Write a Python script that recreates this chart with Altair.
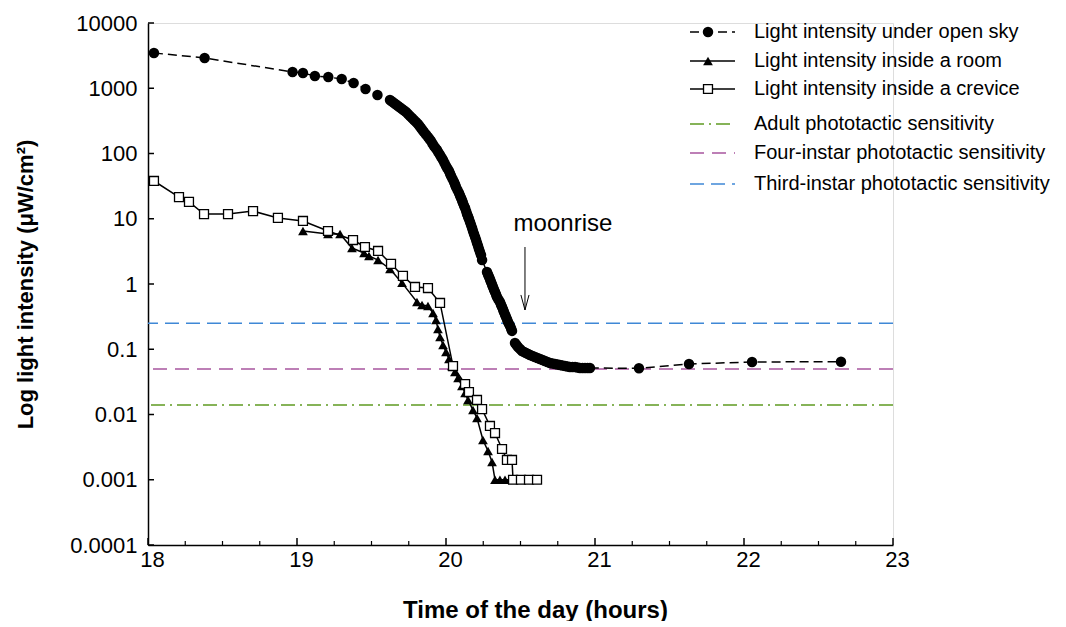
import altair as alt
import pandas as pd

# ---------------- data ----------------
# open sky: sparse early readings, three dense runs, sparse late readings
sky_early_t = [18.04, 18.38, 18.97, 19.04, 19.12, 19.21, 19.30, 19.38, 19.46, 19.54]
sky_early_v = [3470, 2910, 1775, 1713, 1541, 1486, 1386, 1202, 975, 788]
sky_run1_t = [19.624, 19.638, 19.651, 19.665, 19.678, 19.692, 19.705, 19.719, 19.732, 19.745,
              19.758, 19.772, 19.785, 19.799, 19.812, 19.822, 19.832, 19.842, 19.852, 19.866,
              19.879, 19.889, 19.899, 19.909, 19.919, 19.930, 19.940, 19.950, 19.960, 19.970,
              19.980, 19.990, 20.000, 20.010, 20.020, 20.027, 20.034, 20.044, 20.054, 20.061,
              20.067, 20.077, 20.087, 20.094, 20.101, 20.108, 20.114, 20.121, 20.128, 20.135,
              20.141, 20.148, 20.154, 20.161, 20.168, 20.175, 20.181, 20.188, 20.195, 20.202,
              20.208, 20.215, 20.221, 20.228, 20.235, 20.242]
sky_run1_v = [661, 627, 594, 564, 535, 507, 481, 456, 433, 404,
              376, 350, 326, 304, 283, 264, 246, 229, 214, 196,
              179, 167, 156, 142, 130, 121, 113, 103, 94.8, 86.8,
              79.4, 71.5, 64.3, 58.9, 53.9, 49.4, 45.2, 40.7, 36.6, 33.5,
              30.7, 27.6, 24.8, 22.7, 20.8, 19.0, 17.4, 15.9, 14.6, 13.1,
              11.8, 10.8, 9.91, 8.92, 8.02, 7.21, 6.49, 5.84, 5.25, 4.72,
              4.25, 3.82, 3.44, 3.09, 2.78, 2.33]
sky_run2_t = [20.275, 20.282, 20.289, 20.296, 20.302, 20.309, 20.315, 20.322, 20.329, 20.336,
              20.342, 20.352, 20.362, 20.369, 20.376, 20.383, 20.389, 20.396, 20.403, 20.410,
              20.416, 20.423, 20.430, 20.437, 20.443]
sky_run2_v = [1.53, 1.40, 1.28, 1.17, 1.07, 0.981, 0.900, 0.824, 0.754, 0.690,
              0.632, 0.579, 0.530, 0.486, 0.445, 0.407, 0.372, 0.341, 0.312, 0.286,
              0.262, 0.244, 0.227, 0.208, 0.191]
sky_run3_t = [20.463, 20.473, 20.483, 20.497, 20.510, 20.524, 20.537, 20.551, 20.564, 20.581,
              20.597, 20.614, 20.631, 20.648, 20.664, 20.681, 20.698, 20.715, 20.732, 20.749,
              20.765, 20.782, 20.799, 20.816, 20.832, 20.849, 20.866, 20.883, 20.899, 20.916,
              20.933, 20.950, 20.966]
sky_run3_v = [0.125, 0.116, 0.108, 0.101, 0.0940, 0.0908, 0.0877, 0.0846, 0.0817, 0.0788,
              0.0760, 0.0735, 0.0710, 0.0685, 0.0661, 0.0638, 0.0616, 0.0605, 0.0594, 0.0584,
              0.0574, 0.0563, 0.0553, 0.0544, 0.0535, 0.0535, 0.0535, 0.0525, 0.0516, 0.0516,
              0.0516, 0.0516, 0.0516]
sky_late_t = [21.295, 21.631, 22.054, 22.651]
sky_late_v = [0.0510, 0.0594, 0.0638, 0.0645]

room_time = [19.040, 19.208, 19.289, 19.369, 19.450, 19.483, 19.544, 19.624, 19.705, 19.805,
             19.839, 19.879, 19.913, 19.933, 19.946, 19.960, 19.980, 20.000, 20.020, 20.040,
             20.060, 20.081, 20.107, 20.128, 20.148, 20.181, 20.208, 20.248, 20.282, 20.309,
             20.329, 20.362, 20.396, 20.430]
room_val = [6.49, 5.84, 5.84, 3.56, 2.99, 2.69, 2.33, 1.70, 1.04, 0.530,
            0.476, 0.460, 0.360, 0.281, 0.204, 0.154, 0.116, 0.0908, 0.0710, 0.0553,
            0.0448, 0.0362, 0.0274, 0.0214, 0.0167, 0.0117, 0.00883, 0.00406, 0.00276, 0.00187,
            0.001, 0.001, 0.001, 0.001]

crev_time = [18.040, 18.208, 18.275, 18.376, 18.537, 18.705, 18.872, 19.040, 19.208, 19.376,
             19.456, 19.544, 19.631, 19.711, 19.792, 19.879, 19.960, 20.047, 20.128, 20.154,
             20.208, 20.242, 20.295, 20.329, 20.376, 20.409, 20.443, 20.450, 20.503, 20.557,
             20.611]
crev_val = [37.9, 21.5, 18.1, 11.8, 11.8, 13.1, 10.3, 9.24, 6.49, 4.72,
            3.69, 3.21, 2.03, 1.33, 0.900, 0.868, 0.512, 0.0553, 0.0293, 0.0221,
            0.0167, 0.0121, 0.00667, 0.00520, 0.00296, 0.00201, 0.00201, 0.001, 0.001, 0.001,
            0.001]

thr_labels = ["Adult phototactic sensitivity",
              "Four-instar phototactic sensitivity",
              "Third-instar phototactic sensitivity"]
thr_val = [0.014, 0.05, 0.25]
thr_color = ["#5f9b22", "#a8569e", "#3f88d6"]
thr_dash = [[14, 5, 2, 5], [14, 8], [14, 7]]

series_labels = ["Light intensity under open sky",
                 "Light intensity inside a room",
                 "Light intensity inside a crevice"]

x_major = [18, 19, 20, 21, 22, 23]
x_minor = [18.25, 18.5, 18.75, 19.25, 19.5, 19.75, 20.25, 20.5, 20.75,
           21.25, 21.5, 21.75, 22.25, 22.5, 22.75]
y_ticks = [0.0001, 0.001, 0.01, 0.1, 1, 10, 100, 1000, 10000]

moon_text_t, moon_text_v = [20.785], [8.3]
moon_arrow_t, moon_arrow_top, moon_arrow_tip = [20.53], [3.69], [0.40]

# ---------------- layout ----------------
W, H = 745, 522
FONT = "Liberation Sans"

xs = alt.Scale(domain=[18, 23], nice=False, zero=False)
ys = alt.Scale(type="log", domain=[0.0001, 10000], nice=False)
x_axis = alt.Axis(values=x_major, format="d", title="Time of the day (hours)",
                  labelPadding=4, labelOffset=4, labelFlush=False, labelFontSize=22,
                  titleX=387, titleY=72, titleAlign="center",
                  titleBaseline="alphabetic", titleFontSize=24)
y_axis = alt.Axis(values=y_ticks, format="~g", title="Log light intensity (μW/cm²)",
                  labelPadding=11, labelFontSize=22, titleX=-123, titleY=H / 2,
                  titleAngle=270, titleAlign="center", titleBaseline="middle",
                  titleFontSize=22)
X = alt.X("t:Q", scale=xs, axis=x_axis)
Y = alt.Y("v:Q", scale=ys, axis=y_axis)

sky = pd.DataFrame({"t": sky_early_t + sky_run1_t + sky_run2_t + sky_run3_t + sky_late_t,
                    "v": sky_early_v + sky_run1_v + sky_run2_v + sky_run3_v + sky_late_v})
room = pd.DataFrame({"t": room_time, "v": room_val})
crev = pd.DataFrame({"t": crev_time, "v": crev_val})

layers = []

# threshold lines
for v, c, d in zip(thr_val, thr_color, thr_dash):
    layers.append(alt.Chart(pd.DataFrame({"v": [v]})).mark_rule(
        color=c, strokeWidth=1.5, strokeDash=d).encode(y=Y))

# room
layers.append(alt.Chart(room).mark_line(color="black", strokeWidth=1.5).encode(x=X, y=Y))
layers.append(alt.Chart(room).mark_point(shape="triangle-up", filled=True, color="black",
                                         size=95, opacity=1).encode(x=X, y=Y))
# crevice
layers.append(alt.Chart(crev).mark_line(color="black", strokeWidth=1.5).encode(x=X, y=Y))
layers.append(alt.Chart(crev).mark_point(shape="square", filled=True, fill="white",
                                         stroke="black", strokeWidth=1.3, size=80,
                                         opacity=1).encode(x=X, y=Y))
# open sky
layers.append(alt.Chart(sky).mark_line(color="black", strokeWidth=1.5,
                                       strokeDash=[9, 5]).encode(x=X, y=Y))
layers.append(alt.Chart(sky).mark_point(shape="circle", filled=True, color="black",
                                        size=110, opacity=1).encode(x=X, y=Y))

# inward ticks
layers.append(alt.Chart(pd.DataFrame({"v": y_ticks})).mark_rule(
    color="black", strokeWidth=1.5).encode(y=Y, x=alt.value(0), x2=alt.value(6)))
layers.append(alt.Chart(pd.DataFrame({"t": x_major})).mark_rule(
    color="black", strokeWidth=1.5).encode(x=X, y=alt.value(H), y2=alt.value(H - 7)))
layers.append(alt.Chart(pd.DataFrame({"t": x_minor})).mark_rule(
    color="black", strokeWidth=1.2).encode(x=X, y=alt.value(H), y2=alt.value(H - 4)))

# moonrise annotation
layers.append(alt.Chart(pd.DataFrame({"t": moon_text_t, "v": moon_text_v})).mark_text(
    text="moonrise", font=FONT, fontSize=24, color="black", align="center",
    baseline="middle").encode(x=X, y=Y))
layers.append(alt.Chart(pd.DataFrame({"t": moon_arrow_t, "v": moon_arrow_top,
                                      "v2": moon_arrow_tip})).mark_rule(
    color="black", strokeWidth=1).encode(x=X, y=Y, y2="v2:Q"))
layers.append(alt.Chart(pd.DataFrame({"t": moon_arrow_t, "v": moon_arrow_tip})).mark_point(
    shape="M-0.27,-1L0,0L0.27,-1", filled=False, color="black", strokeWidth=1,
    size=900, opacity=1).encode(x=X, y=Y))

# legend (drawn manually)
one = pd.DataFrame({"k": [0]})
row_y = [9, 38, 66, 101, 130, 161]
lx0, lx1, lxm, ltx = 542, 587, 560, 606
leg_line_styles = [dict(color="black", strokeDash=[9, 5]),
                   dict(color="black"),
                   dict(color="black")] + \
                  [dict(color=c, strokeDash=d) for c, d in zip(thr_color, thr_dash)]
for ry, st in zip(row_y, leg_line_styles):
    layers.append(alt.Chart(one).mark_rule(strokeWidth=1.5, **st).encode(
        x=alt.value(lx0), x2=alt.value(lx1), y=alt.value(ry)))
layers.append(alt.Chart(one).mark_point(shape="circle", filled=True, color="black",
                                        size=110, opacity=1).encode(
    x=alt.value(lxm), y=alt.value(row_y[0])))
layers.append(alt.Chart(one).mark_point(shape="triangle-up", filled=True, color="black",
                                        size=95, opacity=1).encode(
    x=alt.value(lxm), y=alt.value(row_y[1])))
layers.append(alt.Chart(one).mark_point(shape="square", filled=True, fill="white",
                                        stroke="black", strokeWidth=1.3, size=80,
                                        opacity=1).encode(
    x=alt.value(lxm), y=alt.value(row_y[2])))
for ry, lab in zip(row_y, series_labels + thr_labels):
    layers.append(alt.Chart(one).mark_text(text=lab, font=FONT, fontSize=20, color="black",
                                           align="left", baseline="middle").encode(
        x=alt.value(ltx), y=alt.value(ry)))

chart = alt.layer(*layers).properties(
    width=W, height=H,
    autosize=alt.AutoSizeParams(type="none"),
    padding={"left": 140, "top": 15, "right": 160, "bottom": 76},
).configure_view(stroke=None).configure(font=FONT).configure_axis(
    grid=False, ticks=False, domainColor="black", domainWidth=1.5,
    labelFont=FONT, labelColor="black",
    titleFont=FONT, titleFontWeight="bold", titleColor="black",
)

chart.save("out.html", embed_options={"renderer": "svg", "actions": False})
